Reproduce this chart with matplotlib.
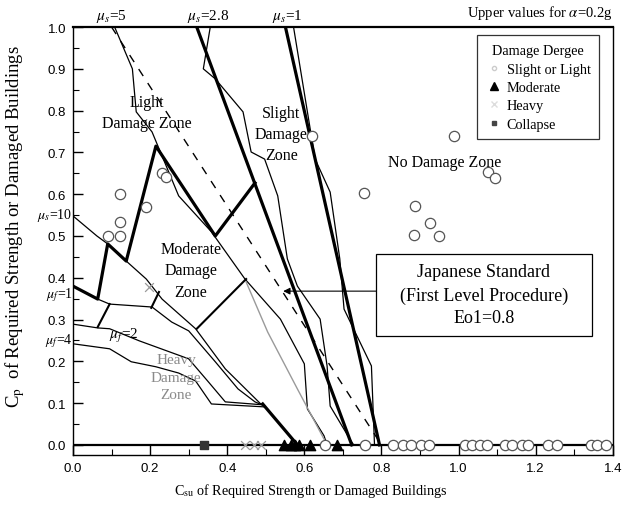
import matplotlib
matplotlib.use("Agg")
import matplotlib.pyplot as plt
from matplotlib.lines import Line2D
from matplotlib.patches import Rectangle

plt.rcParams['mathtext.fontset'] = 'stix'
SERIF = ['Liberation Serif', 'DejaVu Serif']
SANS = ['Liberation Sans', 'DejaVu Sans']

# ---------------- data ----------------
# straight boundary lines
mu28_thick_x = [0.321, 0.723]
mu28_thick_y = [1.0, 0.0]
mu1_thick_x = [0.551, 0.795]
mu1_thick_y = [1.0, 0.0]
dash_x = [0.100, 0.800]
dash_y = [1.0, 0.0]

# thick light-damage boundary
light_x = [0.0, 0.064, 0.090, 0.138, 0.215, 0.369, 0.472]
light_y = [0.380, 0.349, 0.481, 0.440, 0.715, 0.500, 0.627]

# thick segment reaching the base line
base_thick_x = [0.492, 0.582]
base_thick_y = [0.098, 0.0]

# thin lines
mu5_x = [0.108, 0.154, 0.164, 0.205, 0.274, 0.359, 0.446, 0.538, 0.600, 0.608, 0.651, 0.659]
mu5_y = [1.0, 0.900, 0.797, 0.749, 0.596, 0.510, 0.397, 0.301, 0.194, 0.086, 0.022, 0.0]

mu28_thin_x = [0.356, 0.338, 0.369, 0.441, 0.462, 0.497, 0.531, 0.556, 0.582, 0.641, 0.659, 0.667, 0.718, 0.728]
mu28_thin_y = [1.0, 0.900, 0.876, 0.797, 0.701, 0.684, 0.596, 0.445, 0.380, 0.301, 0.189, 0.093, 0.014, 0.0]

mu1_thin_x = [0.572, 0.628, 0.667, 0.692, 0.703, 0.774, 0.782]
mu1_thin_y = [1.0, 0.684, 0.605, 0.445, 0.325, 0.189, 0.0]

mu10_x = [0.0, 0.062, 0.090, 0.138, 0.190, 0.231, 0.318, 0.395, 0.487]
mu10_y = [0.548, 0.500, 0.481, 0.440, 0.397, 0.349, 0.278, 0.182, 0.098]

muf1_x = [0.064, 0.095, 0.205, 0.256, 0.300, 0.369, 0.428, 0.472, 0.497]
muf1_y = [0.349, 0.337, 0.330, 0.294, 0.273, 0.199, 0.134, 0.103, 0.093]

muf2_x = [0.0, 0.064, 0.095, 0.172, 0.300, 0.351, 0.395, 0.492]
muf2_y = [0.289, 0.280, 0.278, 0.249, 0.206, 0.151, 0.103, 0.096]

muf4_x = [0.0, 0.095, 0.151, 0.215, 0.274, 0.318, 0.359, 0.497]
muf4_y = [0.242, 0.230, 0.199, 0.187, 0.172, 0.153, 0.098, 0.091]

grey_x = [0.449, 0.505, 0.582, 0.651]
grey_y = [0.390, 0.270, 0.134, 0.014]

# medium-weight connector segments
conn1_x = [0.223, 0.203]
conn1_y = [0.366, 0.328]
conn2_x = [0.095, 0.064]
conn2_y = [0.337, 0.282]
vline_x = [0.321, 0.449]
vline_y = [0.278, 0.397]

# damaged buildings (points)
slight_x = [0.121, 0.190, 0.121, 0.090, 0.121, 0.231, 0.241, 0.621, 0.756, 0.987, 1.077, 1.095,
            0.887, 0.926, 0.885, 0.949,
            0.654, 0.757, 0.831, 0.856, 0.877, 0.903, 0.923, 1.018, 1.036, 1.056, 1.074,
            1.120, 1.138, 1.164, 1.180, 1.231, 1.256, 1.344, 1.359, 1.382]
slight_y = [0.600, 0.569, 0.533, 0.500, 0.500, 0.651, 0.641, 0.739, 0.603, 0.739, 0.653, 0.638,
            0.571, 0.531, 0.502, 0.500,
            0.0, 0.0, 0.0, 0.0, 0.0, 0.0, 0.0, 0.0, 0.0, 0.0, 0.0,
            0.0, 0.0, 0.0, 0.0, 0.0, 0.0, 0.0, 0.0, 0.0]
moderate_x = [0.548, 0.565, 0.575, 0.585, 0.615, 0.685]
moderate_y = [0.0, 0.0, 0.0, 0.0, 0.0, 0.0]
heavy_x = [0.197, 0.446, 0.470, 0.487]
heavy_y = [0.378, 0.0, 0.0, 0.0]
collapse_x = [0.341]
collapse_y = [0.0]

xtick_vals = [0.0, 0.2, 0.4, 0.6, 0.8, 1.0, 1.2, 1.4]
xtick_labels = ['0.0', '0.2', '0.4', '0.6', '0.8', '1.0', '1.2', '1.4']
ytick_vals = [0.0, 0.1, 0.2, 0.3, 0.4, 0.5, 0.6, 0.7, 0.8, 0.9, 1.0]
ytick_labels = ['0.0', '0.1', '0.2', '0.3', '0.4', '0.5', '0.6', '0.7', '0.8', '0.9', '1.0']

# ---------------- figure ----------------
fig = plt.figure(figsize=(6.24, 5.10), dpi=100)
ax = fig.add_axes([0.117, 0.106, 0.865, 0.839])
ax.set_xlim(0, 1.4)
ax.set_ylim(-0.024, 1.0)

thin = dict(color='black', lw=0.9)
thick = dict(color='black', lw=2.3)
med = dict(color='black', lw=1.5)

ax.axhline(0, color='black', lw=1.6, zorder=2)
ax.plot(mu28_thick_x, mu28_thick_y, **thick)
ax.plot(mu1_thick_x, mu1_thick_y, **thick)
ax.plot(dash_x, dash_y, color='black', lw=1.0, ls=(0, (6, 6)))
ax.plot(light_x, light_y, **thick)
ax.plot(base_thick_x, base_thick_y, **thick)
for xs, ys in [(mu5_x, mu5_y), (mu28_thin_x, mu28_thin_y), (mu1_thin_x, mu1_thin_y),
               (mu10_x, mu10_y), (muf1_x, muf1_y), (muf2_x, muf2_y), (muf4_x, muf4_y)]:
    ax.plot(xs, ys, **thin)
ax.plot(grey_x, grey_y, color='#9a9a9a', lw=1.0)
for xs, ys in [(conn1_x, conn1_y), (conn2_x, conn2_y), (vline_x, vline_y)]:
    ax.plot(xs, ys, **med)

ax.scatter(slight_x, slight_y, s=55, facecolors='white', edgecolors='#555555', linewidths=0.9, zorder=4)
ax.scatter(moderate_x, moderate_y, s=55, marker='^', color='black', zorder=5)
ax.scatter(heavy_x, heavy_y, s=40, marker='x', color='#9a9a9a', linewidths=0.9, zorder=5)
ax.scatter(collapse_x, collapse_y, s=35, marker='s', color='#333333', zorder=5)

# ticks
ax.set_xticks(xtick_vals)
ax.set_xticks([0.1, 0.3, 0.5, 0.7, 0.9, 1.1, 1.3], minor=True)
ax.set_yticks(ytick_vals)
ax.set_yticks([0.05, 0.15, 0.25, 0.35, 0.45, 0.55, 0.65, 0.75, 0.85, 0.95], minor=True)
ax.set_xticklabels(xtick_labels)
ax.set_yticklabels(ytick_labels)
ax.tick_params(which='major', direction='in', length=7, width=1.0, labelsize=9.5, pad=5)
ax.tick_params(which='minor', direction='in', length=4, width=0.8)
for lab in ax.get_xticklabels() + ax.get_yticklabels():
    lab.set_family(SANS)
for sp in ax.spines.values():
    sp.set_linewidth(1.0)
ax.spines['top'].set_linewidth(1.6)

ax.set_xlabel(r'C$_{\rm su}$ of Required Strength or Damaged Buildings', family=SERIF, fontsize=10.2,
              va='center', ha='center')
ax.xaxis.set_label_coords(0.44, -0.082)
ax.set_ylabel(r'C$_{\rm p}$  of Required Strength or Damaged Buildings', family=SERIF, fontsize=13.5,
              va='center', ha='center')
ax.yaxis.set_label_coords(-0.108, 0.535)

# zone labels
zt = dict(family=SERIF, fontsize=11.5, ha='center', va='center', linespacing=1.45)
ax.text(0.192, 0.796, 'Light\nDamage Zone', **zt)
ax.text(0.540, 0.744, 'Slight\nDamage\nZone', **zt)
ax.text(0.964, 0.677, 'No Damage Zone', **zt)
ax.text(0.305, 0.418, 'Moderate\nDamage\nZone', **zt)
zt2 = dict(zt)
zt2['fontsize'] = 11
ax.text(0.268, 0.162, 'Heavy\nDamage\nZone', color='#8a8a8a', **zt2)

mt = dict(family=SERIF, fontsize=11, va='center', ha='center')
ax.text(0.10, 1.027, r'$\mu_s$=5', **mt)
ax.text(0.352, 1.027, r'$\mu_s$=2.8', **mt)
ax.text(0.556, 1.027, r'$\mu_s$=1', **mt)
ax.text(-0.003, 0.552, r'$\mu_s$=10', ha='right', va='center', family=SERIF, fontsize=10)
ax.text(-0.001, 0.360, r'$\mu_f$=1', ha='right', va='center', family=SERIF, fontsize=10)
ax.text(-0.001, 0.250, r'$\mu_f$=4', ha='right', va='center', family=SERIF, fontsize=10)
ax.text(0.132, 0.263, r'$\mu_f$=2', ha='center', va='center', family=SERIF, fontsize=11)

ax.text(1.0, 1.035, r'Upper values for $\alpha$=0.2g', transform=ax.transAxes, ha='right',
        va='center', family=SERIF, fontsize=10.5)

# Japanese standard annotation
ax.add_patch(Rectangle((0.787, 0.261), 0.559, 0.196, fc='white', ec='black', lw=0.9, zorder=6))
ax.text(1.066, 0.359, 'Japanese Standard\n(First Level Procedure)\nEo1=0.8', ha='center', va='center',
        family=SERIF, fontsize=13, linespacing=1.45, zorder=7)
ax.annotate('', xy=(0.538, 0.368), xytext=(0.813, 0.368),
            arrowprops=dict(arrowstyle='-|>', color='black', lw=0.8, mutation_scale=10), zorder=5)

# legend
handles = [
    Line2D([], [], ls='none', marker='o', ms=3, mfc='white', mec='#cccccc'),
    Line2D([], [], ls='none', marker='^', ms=6, color='black'),
    Line2D([], [], ls='none', marker='x', ms=4, color='#dddddd'),
    Line2D([], [], ls='none', marker='s', ms=3.5, color='#444444'),
]
leg = ax.legend(handles, ['Slight or Light', 'Moderate', 'Heavy', 'Collapse'],
                title='Damage Dergee', loc='upper right', bbox_to_anchor=(0.988, 0.997),
                prop={'family': SERIF, 'size': 10.3}, title_fontproperties={'family': SERIF, 'size': 10.3},
                frameon=True, fancybox=False, edgecolor='black', handletextpad=0.3,
                handlelength=1.2, labelspacing=0.38, borderpad=0.6)
leg.get_frame().set_linewidth(0.9)
leg.set_zorder(8)

fig.savefig('out.png', dpi=100)
